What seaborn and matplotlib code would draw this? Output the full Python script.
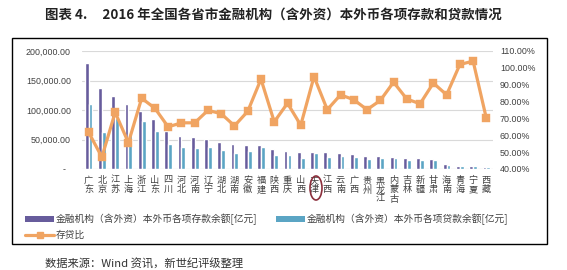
import numpy as np
import pandas as pd
import matplotlib
matplotlib.use("Agg")
import matplotlib.pyplot as plt
from matplotlib.patches import Rectangle, Ellipse
from matplotlib.lines import Line2D
from matplotlib.ticker import FixedLocator, FixedFormatter
import seaborn as sns

provinces = ["广东", "北京", "江苏", "上海", "浙江", "山东", "四川", "河北", "河南", "辽宁",
             "湖北", "湖南", "安徽", "福建", "陕西", "重庆", "山西", "天津", "江西", "云南",
             "广西", "贵州", "黑龙江", "内蒙古", "吉林", "新疆", "甘肃", "海南", "青海", "宁夏", "西藏"]
deposits = [179000, 137500, 123500, 110000, 99000, 85000, 65000, 55500, 54000, 51000,
            46000, 42000, 40500, 40000, 34500, 31000, 29500, 28500, 28000, 27000,
            25500, 22500, 22500, 20000, 19000, 19000, 17000, 8500, 5500, 5500, 4000]
loans = [109500, 63000, 87000, 60000, 81000, 64000, 43000, 37000, 36000, 37500,
         33000, 27000, 30000, 37500, 23500, 24500, 19000, 27000, 20500, 22000,
         20500, 17500, 18000, 18000, 15500, 15000, 15300, 7200, 5600, 5700, 2800]
ratio = [61.8, 47.0, 73.6, 55.6, 82.0, 76.0, 65.0, 67.4, 67.4, 74.8,
         72.8, 65.6, 74.2, 93.3, 68.0, 79.0, 66.0, 94.8, 75.2, 84.0,
         81.1, 75.2, 80.7, 91.5, 81.5, 78.7, 91.0, 84.0, 102.0, 104.0, 70.0]
left_ticks = [0, 50000, 100000, 150000, 200000]
left_labels = ["-  ", "50,000.00", "100,000.00", "150,000.00", "200,000.00"]
right_ticks = [40, 50, 60, 70, 80, 90, 100, 110]
right_labels = ["40.00%", "50.00%", "60.00%", "70.00%", "80.00%", "90.00%", "100.00%", "110.00%"]

dep_name = "金融机构（含外资）本外币各项存款余额[亿元]"
loan_name = "金融机构（含外资）本外币各项贷款余额[亿元]"
ratio_name = "存贷比"
title = "图表 4.     2016 年全国各省市金融机构（含外资）本外币各项存款和贷款情况"
source = "数据来源：Wind 资讯，新世纪评级整理"

c_dep = "#675C9C"
c_loan = "#5BA5C4"
c_ratio = "#F0A462"

sns.set_theme(style="white")
plt.rcParams["font.family"] = ["Noto Sans CJK SC", "DejaVu Sans"]

W, H = 567, 270
fig = plt.figure(figsize=(W / 100, H / 100), dpi=100)

def fx(px):
    return px / W

def fy(py):
    return 1 - py / H

# outer box
fig.patches.append(Rectangle((fx(12), fy(244)), fx(547) - fx(12), fy(38) - fy(244),
                             transform=fig.transFigure, fill=False, edgecolor="black", lw=1.0))

ax = fig.add_axes([fx(82), fy(169), fx(493) - fx(82), fy(51) - fy(169)])

df = pd.DataFrame({
    "省市": provinces * 2,
    "值": deposits + loans,
    "类别": [dep_name] * len(provinces) + [loan_name] * len(provinces),
})
sns.barplot(data=df, x="省市", y="值", hue="类别", palette=[c_dep, c_loan],
            width=0.58, ax=ax, legend=False, saturation=1)
ax.set_ylim(0, 200000)
ax.set_xlim(-0.5, len(provinces) - 0.5)
ax.yaxis.set_major_locator(FixedLocator(left_ticks))
ax.yaxis.set_major_formatter(FixedFormatter(left_labels))
ax.grid(axis="y", color="#D9D9D9", lw=0.8)
ax.set_axisbelow(True)
for s in ax.spines.values():
    s.set_visible(False)
ax.axhline(0, color="#D0D0D0", lw=0.8, zorder=0)
ax.set_xlabel("")
ax.set_ylabel("")
ax.set_xticks(range(len(provinces)))
ax.set_xticklabels(["\n".join(p) for p in provinces], fontsize=6.6, color="#404040",
                   linespacing=1.05, va="top")
ax.tick_params(axis="x", length=0, pad=5)
ax.tick_params(axis="y", length=0, pad=8, labelsize=6.4, labelcolor="#404040")
for t in ax.get_yticklabels():
    t.set_family(["Liberation Sans", "DejaVu Sans"])

ax2 = ax.twinx()
sns.pointplot(x=provinces, y=ratio, ax=ax2, color=c_ratio, markers="s",
              markersize=5, linewidth=2.3, errorbar=None)
ax2.set_ylim(40, 110)
ax2.set_xlim(-0.5, len(provinces) - 0.5)
ax2.yaxis.set_major_locator(FixedLocator(right_ticks))
ax2.yaxis.set_major_formatter(FixedFormatter(right_labels))
ax2.tick_params(axis="y", length=0, pad=5, labelsize=6.4, labelcolor="#404040")
for t in ax2.get_yticklabels():
    t.set_family(["Liberation Sans", "DejaVu Sans"])
ax2.set_ylabel("")
ax2.grid(False)
for s in ax2.spines.values():
    s.set_visible(False)

# highlight ellipse around 天津
fig.patches.append(Ellipse((fx(316), fy(188)), fx(12), fy(0) - fy(24),
                           transform=fig.transFigure, fill=False,
                           edgecolor="#8B2F3C", lw=1.2))

handles = [
    Rectangle((0, 0), 1, 1, facecolor=c_dep, edgecolor="none"),
    Line2D([0], [0], color=c_ratio, lw=2.3, marker="s", markersize=4),
    Rectangle((0, 0), 1, 1, facecolor=c_loan, edgecolor="none"),
]
labels = [dep_name, ratio_name, loan_name]
fig.legend(handles, labels, loc="upper left", bbox_to_anchor=(fx(25), fy(214)),
           ncol=2, frameon=False, fontsize=7.0, handlelength=3.0, handleheight=0.5,
           handletextpad=0.2, columnspacing=1.9, labelspacing=0.45, borderaxespad=0,
           borderpad=0, labelcolor="#404040")

fig.text(fx(45), fy(15), title, fontsize=9.7, fontweight="bold", va="center", ha="left",
         color="#222222")
fig.text(fx(45), fy(263), source, fontsize=8.1, va="center", ha="left", color="#333333")

fig.savefig("out.png", dpi=100)
